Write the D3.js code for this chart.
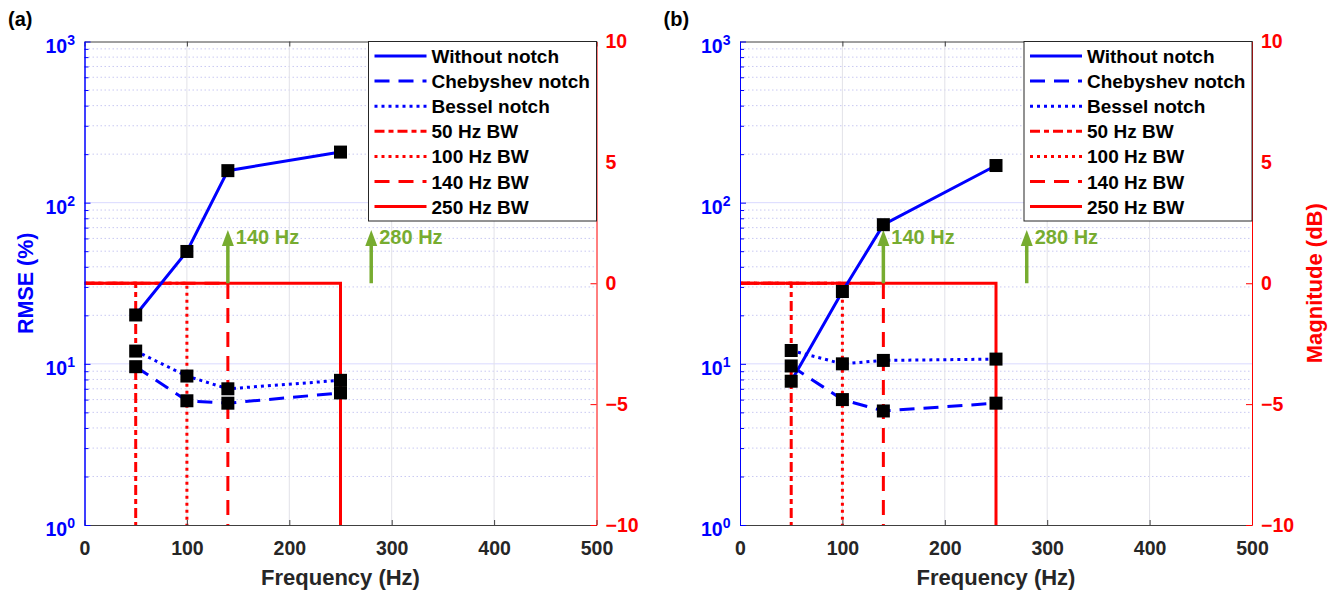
<!DOCTYPE html>
<html>
<head>
<meta charset="utf-8">
<script src="https://cdn.jsdelivr.net/npm/d3@7"></script>
<style>
body{margin:0;background:#fff}
svg{display:block}
text{font-family:"Liberation Sans",Arial,sans-serif;font-weight:bold}
</style>
</head>
<body>
<div id="chart"></div>
<script>
var width = 1342, height = 597

var freqs = [50, 100, 140, 250]

var withoutA = [20.1, 49.8, 158, 206]
var chebyA   = [9.6, 5.9, 5.7, 6.6]
var besselA  = [12.0, 8.4, 7.0, 7.9]

var withoutB = [7.8, 28.1, 73, 170]
var chebyB   = [9.7, 6.0, 5.1, 5.7]
var besselB  = [12.1, 10.0, 10.5, 10.7]

var bandwidths = [50, 100, 140, 250]
var bwGain = 0, bwFloor = -10

var seriesLabels = ['Without notch', 'Chebyshev notch', 'Bessel notch']
var bwLabels = ['50 Hz BW', '100 Hz BW', '140 Hz BW', '250 Hz BW']

var harmonics = [140, 280]
var harmonicLabels = ['140 Hz', '280 Hz']
var arrowTop = 2.2

var xTicks = [0, 100, 200, 300, 400, 500]
var rmseTicks = [1, 10, 100, 1000]
var magTicks = [-10, -5, 0, 5, 10]

var blue = '#0000ff', red = '#ff0000', green = '#77ac30', ink = '#262626'
var blueDash = [null, '15,9', '3,4']
var redDash = ['10,4,5,4', '3,4', '15,9', null]

// `top` is taken by window.top, hence plotTop
var plotTop = 41.5, plotBottom = 525, plotW = 512

var svg = d3.select('#chart').append('svg')
    .attr('width', width).attr('height', height)

function panel(o){
  var L = o.left, R = L + plotW
  var x = d3.scaleLinear().domain([0, 500]).range([L, R])
  var y = d3.scaleLog().domain([1, 1000]).range([plotBottom, plotTop])
  var y2 = d3.scaleLinear().domain([-10, 10]).range([plotBottom, plotTop])

  var g = svg.append('g')

  // grid
  var minor = []
  ;[1, 10, 100].forEach(function(k){ d3.range(2, 10).forEach(function(m){ minor.push(m*k) }) })

  g.append('g').selectAll('line').data(minor).enter().append('line')
    .attr('x1', L).attr('x2', R).attr('y1', y).attr('y2', y)
    .attr('stroke', '#c9c9f2').attr('stroke-width', 1).attr('stroke-dasharray', '1.5,2.5')

  g.append('g').selectAll('line').data([10, 100]).enter().append('line')
    .attr('x1', L).attr('x2', R).attr('y1', y).attr('y2', y)
    .attr('stroke', '#dadaff').attr('stroke-width', 1)

  g.append('g').selectAll('line').data(xTicks.slice(1, -1)).enter().append('line')
    .attr('x1', x).attr('x2', x).attr('y1', plotTop).attr('y2', plotBottom)
    .attr('stroke', '#e2e2e8').attr('stroke-width', 1)

  var clipId = 'clip' + o.tag.replace(/\W/g, '')
  svg.append('clipPath').attr('id', clipId).append('rect')
    .attr('x', L).attr('y', plotTop).attr('width', plotW).attr('height', plotBottom - plotTop)

  var plot = g.append('g').attr('clip-path', 'url(#' + clipId + ')')

  // bandwidth windows (right axis)
  var magLine = d3.line().x(function(d){ return x(d[0]) }).y(function(d){ return y2(d[1]) })
  bandwidths.forEach(function(bw, i){
    plot.append('path')
      .attr('d', magLine([[0, bwGain], [bw, bwGain], [bw, bwFloor]]))
      .attr('fill', 'none').attr('stroke', red).attr('stroke-width', 3)
      .attr('stroke-dasharray', redDash[i])
  })

  // harmonic arrows
  harmonics.forEach(function(h, i){
    var ax = x(h), tip = y2(arrowTop), base = y2(0)
    plot.append('line')
      .attr('x1', ax).attr('x2', ax).attr('y1', base).attr('y2', tip + 12)
      .attr('stroke', green).attr('stroke-width', 3.5)
    plot.append('path')
      .attr('d', 'M' + ax + ',' + tip + 'L' + (ax + 6) + ',' + (tip + 16) + 'L' + (ax - 6) + ',' + (tip + 16) + 'Z')
      .attr('fill', green)
    g.append('text')
      .attr('x', ax + 8).attr('y', tip + 14)
      .attr('fill', green).attr('font-size', 20)
      .text(harmonicLabels[i])
  })

  // rmse series (left axis)
  var series = [o.without, o.cheby, o.bessel]
  var rmseLine = d3.line().x(function(d, i){ return x(freqs[i]) }).y(function(d){ return y(d) })
  series.forEach(function(vals, i){
    plot.append('path')
      .attr('d', rmseLine(vals))
      .attr('fill', 'none').attr('stroke', blue).attr('stroke-width', 3)
      .attr('stroke-dasharray', blueDash[i])
  })
  series.forEach(function(vals){
    plot.append('g').selectAll('rect').data(vals).enter().append('rect')
      .attr('x', function(d, i){ return x(freqs[i]) - 6.5 })
      .attr('y', function(d){ return y(d) - 6.5 })
      .attr('width', 13).attr('height', 13)
      .attr('fill', '#000')
  })

  // axes
  var bx = g.append('g').attr('transform', 'translate(0,' + plotBottom + ')')
    .call(d3.axisBottom(x).tickValues(xTicks).tickSizeInner(-5).tickSizeOuter(0).tickPadding(16))
  bx.selectAll('text').attr('font-size', 19.5).attr('fill', ink)
    .style('font-family', '"Liberation Sans",Arial,sans-serif').style('font-weight', 'bold')
  bx.selectAll('line').attr('stroke', '#404040')
  bx.select('.domain').attr('stroke', '#404040')

  var tx = g.append('g').attr('transform', 'translate(0,' + plotTop + ')')
    .call(d3.axisTop(x).tickValues(xTicks).tickSizeInner(-5).tickSizeOuter(0).tickFormat(''))
  tx.selectAll('line').attr('stroke', '#404040')
  tx.select('.domain').attr('stroke', '#404040')

  var ly = g.append('g').attr('transform', 'translate(' + L + ',0)')
  ly.call(d3.axisLeft(y).tickValues(minor).tickSizeInner(-4).tickSizeOuter(0).tickFormat(''))
  ly.append('g')
    .call(d3.axisLeft(y).tickValues(rmseTicks).tickSizeInner(-6).tickSizeOuter(0).tickFormat(''))
  ly.selectAll('line').attr('stroke', blue)
  ly.selectAll('.domain').attr('stroke', blue)

  var lt = g.append('g').selectAll('text').data(rmseTicks).enter().append('text')
    .attr('x', L - 9.5).attr('y', function(d){ return y(d) + 11 })
    .attr('text-anchor', 'end').attr('fill', blue).attr('font-size', 19.5)
  lt.append('tspan').text('10')
  lt.append('tspan').attr('font-size', 14).attr('dy', -8)
    .text(function(d){ return Math.round(Math.log10(d)) })

  var ry = g.append('g').attr('transform', 'translate(' + R + ',0)')
    .call(d3.axisRight(y2).tickValues(magTicks).tickSizeInner(-6).tickSizeOuter(0).tickPadding(9))
  ry.selectAll('line').attr('stroke', red)
  ry.select('.domain').attr('stroke', red)
  ry.selectAll('text').attr('font-size', 19.5).attr('fill', red)
    .style('font-family', '"Liberation Sans",Arial,sans-serif').style('font-weight', 'bold')

  // labels
  g.append('text')
    .attr('x', (L + R)/2).attr('y', 585).attr('text-anchor', 'middle')
    .attr('fill', ink).attr('font-size', 22).text('Frequency (Hz)')

  if (o.yLabel) g.append('text')
    .attr('transform', 'translate(' + (L - 51.5) + ',' + y2(0) + ') rotate(-90)')
    .attr('text-anchor', 'middle').attr('fill', blue).attr('font-size', 21.5)
    .text(o.yLabel)

  if (o.y2Label) g.append('text')
    .attr('transform', 'translate(' + (R + 70) + ',' + y2(0) + ') rotate(-90)')
    .attr('text-anchor', 'middle').attr('fill', red).attr('font-size', 22)
    .text(o.y2Label)

  g.append('text')
    .attr('x', L - 76.5).attr('y', 26)
    .attr('fill', '#000').attr('font-size', 20).text(o.tag)

  // legend
  var lg = g.append('g').attr('transform', 'translate(' + (R - 228) + ',' + plotTop + ')')
  lg.append('rect').attr('width', 228).attr('height', 179.5)
    .attr('fill', '#fff').attr('stroke', ink).attr('stroke-width', 1)

  var entries = seriesLabels.map(function(t, i){ return {text: t, color: blue, dash: blueDash[i]} })
    .concat(bwLabels.map(function(t, i){ return {text: t, color: red, dash: redDash[i]} }))

  var row = lg.selectAll('g.row').data(entries).enter().append('g')
    .attr('class', 'row')
    .attr('transform', function(d, i){ return 'translate(0,' + (14.5 + i*25.1) + ')' })
  row.append('line')
    .attr('x1', 6).attr('x2', 58).attr('y1', 0).attr('y2', 0)
    .attr('stroke', function(d){ return d.color }).attr('stroke-width', 3)
    .attr('stroke-dasharray', function(d){ return d.dash })
  row.append('text')
    .attr('x', 63).attr('y', 7).attr('fill', '#000').attr('font-size', 19)
    .text(function(d){ return d.text })
}

panel({left: 84.5, tag: '(a)', without: withoutA, cheby: chebyA, bessel: besselA, yLabel: 'RMSE (%)'})
panel({left: 740, tag: '(b)', without: withoutB, cheby: chebyB, bessel: besselB, y2Label: 'Magnitude (dB)'})
</script>
</body>
</html>
